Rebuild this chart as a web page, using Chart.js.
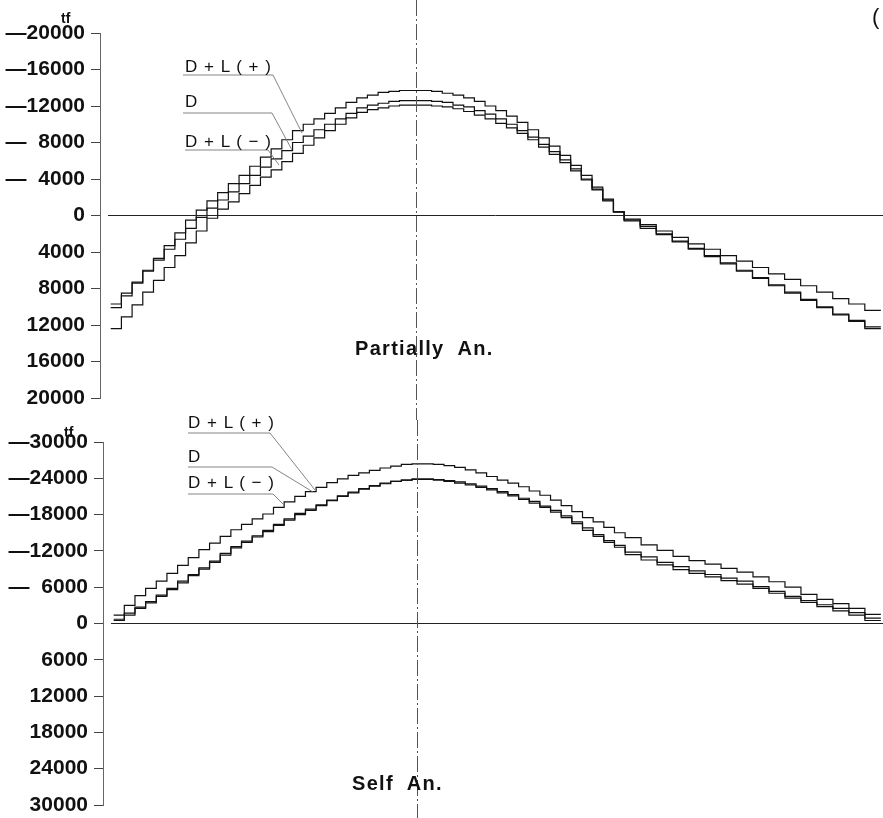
<!DOCTYPE html>
<html><head><meta charset="utf-8">
<script src="https://cdn.jsdelivr.net/npm/chart.js@4.4.1/dist/chart.umd.min.js"></script>
<style>
html,body{margin:0;padding:0;background:#fff;width:883px;height:818px;overflow:hidden;position:relative;}
.wrap{position:absolute;left:0;width:883px;}
#w1{top:0;height:420px;} #w2{top:420px;height:410px;}
.t{position:absolute;font-family:'Liberation Sans',Arial,sans-serif;color:#111;line-height:1;white-space:pre;}
.unit{font-weight:bold;font-size:14px;}
.lg{font-size:17px;letter-spacing:1px;}
.ttl{font-weight:bold;font-size:20px;letter-spacing:1.3px;}
</style></head>
<body>
<div class="wrap" id="w1"><canvas id="c1" width="883" height="420"></canvas></div>
<div class="wrap" id="w2"><canvas id="c2" width="883" height="410"></canvas></div>

<div class="t unit" style="left:61px;top:11px;">tf</div>
<div class="t unit" style="left:64px;top:425px;">tf</div>
<div class="t lg" style="left:185px;top:58px;">D + L ( + )</div>
<div class="t lg" style="left:185px;top:93px;">D</div>
<div class="t lg" style="left:185px;top:133px;">D + L ( − )</div>
<div class="t lg" style="left:188px;top:414px;">D + L ( + )</div>
<div class="t lg" style="left:188px;top:448px;">D</div>
<div class="t lg" style="left:188px;top:474px;">D + L ( − )</div>
<div class="t ttl" style="left:355px;top:338px;">Partially  An.</div>
<div class="t ttl" style="left:352px;top:773px;">Self  An.</div>
<div class="t" style="left:872px;top:6px;font-size:22px;">(</div>

<script>
// stations (m): segment boundaries along the girder
const stations = [2,4,6,8,10,12,14,16,18,20,22,24,26,28,30,32,34,36,38,40,42,44,46,48,50,
  52,54,56,58,60,62,64,66,68,70,72,74,76,78,80,82,84,86,88,90,92,94,96,98,
  101,104,107,110,113,116,119,122,125,128,131,134,137,140,143,146];

// Partially anchored (tf)
const paDLplus = [10100,8800,7400,6000,4700,3300,1900,500,
  -600,-1600,-2500,-3500,-4400,-5400,-6400,-7300,
  -8300,-9300,-10000,-10600,-11200,-11800,-12400,-12900,
  -13200,-13500,-13600,-13700,-13700,-13700,-13600,-13400,
  -13200,-12900,-12500,-12000,-11500,-10900,-10200,-9400,
  -8500,-7600,-6600,-5500,-4400,-3100,-1800,-400,
  400,1000,1700,2400,3100,3700,4400,5000,5700,6400,7000,7700,8400,9100,9700,10400];
const paD = [9700,8500,7300,6100,4900,3700,2600,1400,
  200,-800,-1700,-2600,-3500,-4400,-5300,-6200,
  -7100,-8000,-8700,-9400,-10000,-10600,-11200,-11800,
  -12100,-12300,-12500,-12600,-12600,-12600,-12500,-12400,
  -12100,-11900,-11500,-11100,-10600,-10000,-9300,-8600,
  -7800,-7000,-6100,-5100,-4000,-2900,-1700,-400,
  500,1200,2000,2800,3600,4400,5200,6000,6800,7600,8400,9200,10000,10800,11500,12200];
const paDLminus = [12400,11100,9800,8400,7100,5700,4400,3000,
  1700,300,-700,-1500,-2400,-3300,-4200,-5000,
  -5900,-6800,-7700,-8500,-9300,-10000,-10700,-11300,
  -11600,-11800,-12000,-12100,-12100,-12100,-12000,-11900,
  -11700,-11400,-11000,-10600,-10100,-9600,-9000,-8300,
  -7500,-6700,-5800,-4900,-3900,-2800,-1600,-400,
  600,1400,2100,2900,3700,4500,5300,6100,6900,7700,8500,9300,10100,10900,11600,12400];

// Self anchored (tf)
const saDLplus = [-1400,-3000,-4600,-5800,-7000,-8300,-9600,-10900,
  -12200,-13300,-14400,-15500,-16400,-17300,-18100,-19200,
  -20100,-21000,-21800,-22500,-23300,-23900,-24500,-24900,
  -25300,-25700,-26000,-26300,-26400,-26400,-26300,-26100,
  -25800,-25400,-24900,-24300,-23700,-23200,-22600,-21900,
  -21200,-20400,-19500,-18500,-17500,-16800,-15900,-15000,
  -14200,-13000,-12100,-11100,-10400,-9800,-9100,-8500,-7700,-6900,-6000,-4800,-4000,-3300,-2500,-1500];
const saD = [-700,-1700,-2700,-3600,-4700,-5800,-7000,-8100,
  -9200,-10300,-11600,-12700,-13600,-14500,-15400,-16400,
  -17300,-18200,-18900,-19600,-20400,-21100,-21700,-22300,
  -22800,-23200,-23500,-23700,-23900,-23900,-23800,-23600,
  -23400,-23100,-22700,-22300,-21800,-21300,-20700,-20200,
  -19400,-18700,-17800,-16800,-15800,-14700,-13700,-12900,
  -11800,-11000,-10100,-9400,-8700,-8100,-7500,-7000,-6100,-5300,-4500,-3800,-3100,-2500,-1800,-900];
const saDLminus = [-500,-1400,-2500,-3400,-4500,-5600,-6700,-7900,
  -9000,-10100,-11300,-12500,-13400,-14300,-15200,-16200,
  -17100,-18000,-18700,-19500,-20300,-21000,-21600,-22200,
  -22700,-23100,-23500,-23700,-23800,-23800,-23700,-23500,
  -23200,-22900,-22500,-22100,-21600,-21100,-20500,-19900,
  -19200,-18400,-17500,-16500,-15400,-14400,-13400,-12600,
  -11400,-10500,-9700,-8900,-8300,-7700,-7100,-6500,-5800,-5000,-4200,-3500,-2800,-2100,-1400,-500];

const paTicks = [-20000,-16000,-12000,-8000,-4000,0,4000,8000,12000,16000,20000];
const saTicks = [-30000,-24000,-18000,-12000,-6000,0,6000,12000,18000,24000,30000];
const centerStation = 59;

function pts(vals){ return stations.map((x,i)=>({x:x, y:vals[Math.min(i, vals.length-1)]})); }
function fmt(v){
  if (v < 0) { const a = Math.abs(v); return '\u2014' + (a < 10000 ? '\u2007' : '') + a; }
  return String(v);
}
const deco = {
  id:'deco',
  afterDatasetsDraw(chart, args, o){
    const ctx = chart.ctx, ca = chart.chartArea, xs = chart.scales.x, ys = chart.scales.y;
    ctx.save();
    const y0 = ys.getPixelForValue(0);
    ctx.strokeStyle = '#222'; ctx.lineWidth = 1;
    ctx.beginPath(); ctx.moveTo(xs.getPixelForValue(o.zeroFrom), y0); ctx.lineTo(ca.right, y0); ctx.stroke();
    const xc = Math.round(xs.getPixelForValue(centerStation)) + 0.5;
    ctx.setLineDash([16,3,2,3]); ctx.strokeStyle = '#555';
    ctx.beginPath(); ctx.moveTo(xc, 0); ctx.lineTo(xc, chart.height); ctx.stroke();
    ctx.setLineDash([]); ctx.strokeStyle = '#777'; ctx.lineWidth = 0.9;
    o.leaders.forEach(seg => { ctx.beginPath(); seg.forEach((p,i)=> i ? ctx.lineTo(p[0],p[1]) : ctx.moveTo(p[0],p[1])); ctx.stroke(); });
    ctx.restore();
  }
};
function ds(vals){
  return {data: pts(vals), stepped: true, borderColor:'#111', borderWidth:1.2, pointRadius:0, fill:false};
}
function make(id, series, ticks, axisW, pad, leaders){
  return new Chart(document.getElementById(id), {
    type:'line',
    data:{datasets: series.map(ds)},
    options:{
      responsive:false, animation:false, devicePixelRatio:1,
      layout:{padding:pad},
      plugins:{legend:{display:false}, tooltip:{enabled:false}, deco:{zeroFrom:1.5, leaders:leaders}},
      scales:{
        x:{type:'linear', min:0, max:146.4, display:false},
        y:{type:'linear', reverse:true, min:ticks[0], max:ticks[ticks.length-1],
           afterFit: s => { s.width = axisW; },
           afterBuildTicks: s => { s.ticks = ticks.map(v => ({value:v})); },
           border:{display:true, color:'#666', width:1},
           grid:{drawOnChartArea:false, drawTicks:true, tickLength:9, color:'#444'},
           ticks:{padding:6, color:'#111', callback: fmt,
             font:{family:"'Liberation Sans Narrow','Arial Narrow','Liberation Sans',sans-serif", size:21, weight:'bold'}}
        }
      }
    },
    plugins:[deco]
  });
}
make('c1', [paDLplus, paD, paDLminus], paTicks, 100, {top:33,bottom:22,left:0,right:0},
  [[[183,75],[273,75],[302,133]], [[183,113],[272,113],[292,150]], [[185,150],[268,150],[279,165]]]);
make('c2', [saDLplus, saD, saDLminus], saTicks, 103, {top:22,bottom:25,left:0,right:0},
  [[[188,13],[270,13],[315,70]], [[188,47],[272,47],[313,72]], [[188,74],[273,74],[284,85]]]);
</script>
</body></html>
